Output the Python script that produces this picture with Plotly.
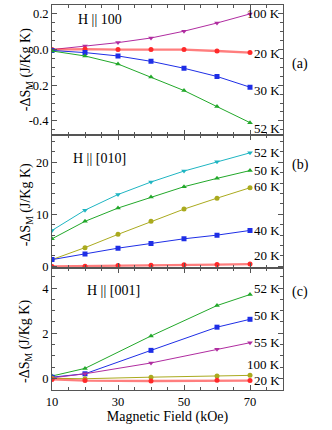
import plotly.graph_objects as go
from plotly.subplots import make_subplots

# field values (kOe)
field_ab = [10, 20, 30, 40, 50, 60, 70]
field_c = [10, 20, 40, 60, 70]

# panel (a) H || 100
a_100K = [0.0, 0.02, 0.039, 0.065, 0.103, 0.149, 0.20]
a_20K = [0.0, 0.003, 0.0, 0.0, 0.0, -0.008, -0.017]
a_30K = [-0.005, -0.017, -0.036, -0.066, -0.105, -0.151, -0.211]
a_52K = [-0.008, -0.036, -0.081, -0.154, -0.23, -0.32, -0.41]

# panel (b) H || [010]
b_52K = [6.9, 10.8, 13.8, 16.2, 18.3, 20.1, 21.8]
b_50K = [5.3, 8.65, 11.2, 13.3, 15.3, 16.9, 18.4]
b_60K = [1.3, 3.6, 6.15, 8.65, 11.0, 13.1, 15.1]
b_40K = [1.3, 2.4, 3.5, 4.4, 5.3, 6.0, 6.9]
b_20K = [0.0, 0.05, 0.15, 0.2, 0.3, 0.35, 0.45]

# panel (c) H || [001]
c_52K = [0.1, 0.44, 1.88, 3.23, 3.72]
c_50K = [0.05, 0.2, 1.24, 2.27, 2.62]
c_55K = [0.02, 0.2, 0.68, 1.29, 1.58]
c_100K = [0.0, -0.02, 0.05, 0.1, 0.13]
c_20K = [-0.05, -0.1, -0.12, -0.09, -0.1]

PURPLE = "#B02CA0"
RED = "#FF2A2A"
BLUE = "#1E2EE6"
GREEN = "#22A82A"
CYAN = "#1FB5C2"
OLIVE = "#AAAA1E"
FONT = "Liberation Serif"

fig = make_subplots(rows=3, cols=1, shared_xaxes=True, vertical_spacing=0)

panels = [
    (1, field_ab, [(a_100K, PURPLE, "triangle-down"), (a_20K, RED, "circle"),
                   (a_30K, BLUE, "square"), (a_52K, GREEN, "triangle-up")]),
    (2, field_ab, [(b_52K, CYAN, "triangle-down"), (b_50K, GREEN, "triangle-up"),
                   (b_60K, OLIVE, "circle"), (b_40K, BLUE, "square"), (b_20K, RED, "circle")]),
    (3, field_c, [(c_52K, GREEN, "triangle-up"), (c_50K, BLUE, "square"),
                  (c_55K, PURPLE, "triangle-down"), (c_100K, OLIVE, "circle"), (c_20K, RED, "circle")]),
]

for row, xs, series in panels:
    for ys, col, sym in series:
        # red curves have a soft pinkish band in the original
        line = dict(color="rgba(255,40,40,0.6)", width=2.3) if col == RED else dict(color=col, width=1)
        fig.add_trace(go.Scatter(x=xs, y=ys, mode="lines+markers", line=line,
                                 marker=dict(color=col, symbol=sym, size=5),
                                 showlegend=False), row=row, col=1)

axis_style = dict(showline=True, linecolor="#555555", linewidth=1, mirror="ticks",
                  ticks="inside", ticklen=5, tickcolor="#555555", showgrid=False,
                  zeroline=False, tickfont=dict(size=12.5, color="black"))

for r in (1, 2, 3):
    fig.update_xaxes(range=[10, 80], tickmode="linear", tick0=10, dtick=20,
                     minor=dict(dtick=5, tick0=10, ticks="inside", ticklen=3, tickcolor="#555555"),
                     showticklabels=(r == 3), **axis_style, row=r, col=1)

fig.update_xaxes(title=dict(text="Magnetic Field (kOe)", font=dict(size=14, color="black"),
                            standoff=0), row=3, col=1)

fig.update_yaxes(range=[-0.48, 0.25], tickmode="array", tickvals=[0.2, 0.0, -0.2, -0.4],
                 ticktext=["0.2", "0.0", "-0.2", "-0.4"],
                 minor=dict(dtick=0.05, tick0=0, ticks="inside", ticklen=3, tickcolor="#555555"),
                 domain=[0.662, 1.0], **axis_style, row=1, col=1)
fig.update_yaxes(range=[-0.3, 25.2], tickmode="linear", tick0=0, dtick=10,
                 minor=dict(dtick=2, tick0=0, ticks="inside", ticklen=3, tickcolor="#555555"),
                 domain=[0.317, 0.662], **axis_style, row=2, col=1)
fig.update_yaxes(range=[-0.52, 4.9], tickmode="linear", tick0=0, dtick=2,
                 minor=dict(dtick=0.5, tick0=0, ticks="inside", ticklen=3, tickcolor="#555555"),
                 domain=[0.0, 0.317], **axis_style, row=3, col=1)

# y titles as rotated annotations so they sit closer to the tick labels
for yc in (0.831, 0.48, 0.125):
    fig.add_annotation(x=-0.112, y=yc, xref="paper", yref="paper", text="-ΔS<sub>M</sub> (J/Kg K)",
                       textangle=-90, showarrow=False, xanchor="center", yanchor="middle",
                       font=dict(size=14, color="black"))

labels = [
    ("y", "100 K", 0.20), ("y", "20 K", -0.02), ("y", "30 K", -0.23), ("y", "52 K", -0.44),
    ("y2", "52 K", 21.9), ("y2", "50 K", 18.5), ("y2", "60 K", 15.25), ("y2", "40 K", 6.9), ("y2", "20 K", 2.0),
    ("y3", "52 K", 3.97), ("y3", "50 K", 2.77), ("y3", "55 K", 1.61), ("y3", "100 K", 0.62), ("y3", "20 K", -0.08),
]
xref = {"y": "x", "y2": "x2", "y3": "x3"}
for yr, txt, yv in labels:
    fig.add_annotation(x=80, y=yv, xref=xref[yr], yref=yr, text=txt, showarrow=False,
                       xanchor="right", xshift=-1, font=dict(size=13, color="black"))

titles = [("x", "y", "H || 100", 0.22), ("x2", "y2", "H || [010]", 22.5), ("x3", "y3", "H || [001]", 4.3)]
for xr, yr, txt, yv in titles:
    fig.add_annotation(x=24.5 if yr != "y3" else 28.5, y=yv, xref=xr, yref=yr, text=txt, showarrow=False,
                       yanchor="top", font=dict(size=14, color="black"))

for txt, yv in [("(a)", 0.874), ("(b)", 0.585), ("(c)", 0.228)]:
    fig.add_annotation(x=1.03, y=yv, xref="paper", yref="paper", text=txt, showarrow=False,
                       xanchor="left", font=dict(size=14, color="black"))

fig.update_layout(template="simple_white", width=332, height=430, margin=dict(l=52, r=49, t=5, b=40),
                  plot_bgcolor="white", paper_bgcolor="white",
                  font=dict(family=FONT, size=14, color="black"))

fig.write_html("out.html", config={"displayModeBar": False},
               post_script="document.body.style.margin='0';")
